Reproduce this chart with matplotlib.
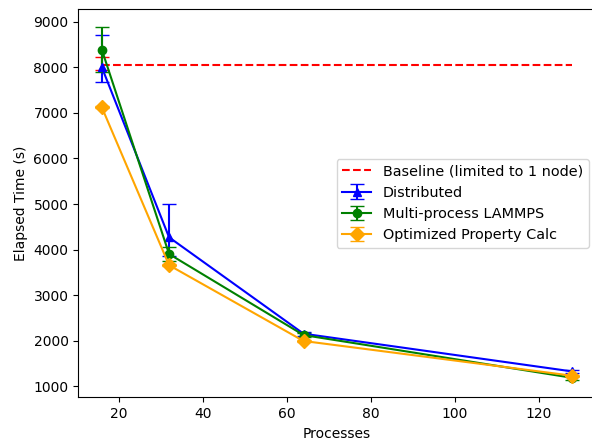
import matplotlib
matplotlib.use("Agg")
import matplotlib.pyplot as plt

processes = [16, 32, 64, 128]

baseline_x = [16, 128]
baseline_val = [8055, 8055]
baseline_err_x = [16]
baseline_err_val = [8080]
baseline_err = [140]

dist_val = [8004, 4268, 2150, 1320]
dist_err_lo = [330, 400, 40, 40]
dist_err_hi = [700, 730, 40, 40]

multi_val = [8391, 3901, 2120, 1180]
multi_err = [500, 150, 40, 40]

opt_val = [7125, 3655, 1990, 1226]
opt_err = [20, 20, 20, 20]

fig = plt.figure(figsize=(5.92, 4.40), dpi=100)
ax = fig.add_axes([78.3 / 592, 1 - 397.3 / 440, (596 - 78.3) / 592, (397.3 - 9.3) / 440])

ax.plot(baseline_x, baseline_val, 'r--', label='Baseline (limited to 1 node)')
ax.errorbar(baseline_err_x, baseline_err_val, yerr=baseline_err, fmt='none', ecolor='red', capsize=5)
ax.errorbar(processes, dist_val, yerr=[dist_err_lo, dist_err_hi], fmt='-^', color='blue',
            capsize=5, label='Distributed')
ax.errorbar(processes, multi_val, yerr=multi_err, fmt='-o', color='green',
            capsize=5, label='Multi-process LAMMPS')
ax.errorbar(processes, opt_val, yerr=opt_err, fmt='-D', color='orange',
            capsize=5, markersize=7, label='Optimized Property Calc')

ax.set_xlabel('Processes')
ax.set_ylabel('Elapsed Time (s)')
ax.legend(loc='center right', prop={'size': 10.4})

fig.savefig('out.png', dpi=100)
